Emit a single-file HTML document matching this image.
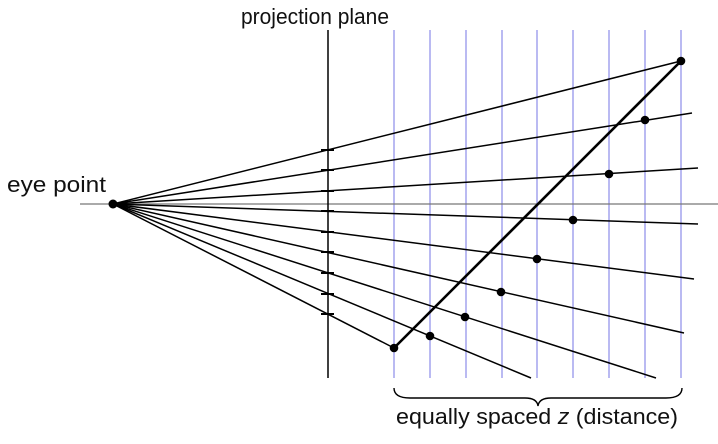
<!DOCTYPE html>
<html><head><meta charset="utf-8"><style>
html,body{margin:0;padding:0;background:#fff;}
svg{display:block;}
text{font-family:"Liberation Sans",sans-serif;fill:#111;}
</style></head><body>
<svg width="718" height="444" viewBox="0 0 718 444" xmlns="http://www.w3.org/2000/svg">
<rect width="718" height="444" fill="#fff"/>
<g stroke="#a8a8ee" stroke-width="1.6">
<line x1="394" y1="30" x2="394" y2="378"/>
<line x1="430" y1="30" x2="430" y2="378"/>
<line x1="466" y1="30" x2="466" y2="378"/>
<line x1="502" y1="30" x2="502" y2="378"/>
<line x1="537" y1="30" x2="537" y2="378"/>
<line x1="573" y1="30" x2="573" y2="378"/>
<line x1="609" y1="30" x2="609" y2="378"/>
<line x1="645" y1="30" x2="645" y2="378"/>
<line x1="681" y1="30" x2="681" y2="378"/>
</g>
<line x1="80" y1="204" x2="718" y2="204" stroke="#777" stroke-width="1.2"/>
<line x1="328" y1="30" x2="328" y2="378" stroke="#000" stroke-width="1.5"/>
<g stroke="#000" stroke-width="1.5">
<line x1="113" y1="204" x2="681" y2="61"/>
<line x1="113" y1="204" x2="692" y2="113"/>
<line x1="113" y1="204" x2="698" y2="168"/>
<line x1="113" y1="204" x2="698" y2="224"/>
<line x1="113" y1="204" x2="694" y2="279"/>
<line x1="113" y1="204" x2="684" y2="333"/>
<line x1="113" y1="204" x2="656" y2="378"/>
<line x1="113" y1="204" x2="531" y2="378"/>
<line x1="113" y1="204" x2="394" y2="348"/>
</g>
<g stroke="#000" stroke-width="2">
<line x1="321" y1="150" x2="334" y2="150"/>
<line x1="321" y1="170" x2="334" y2="170"/>
<line x1="321" y1="191" x2="334" y2="191"/>
<line x1="321" y1="211" x2="334" y2="211"/>
<line x1="321" y1="232" x2="334" y2="232"/>
<line x1="321" y1="252" x2="334" y2="252"/>
<line x1="321" y1="273" x2="334" y2="273"/>
<line x1="321" y1="294" x2="334" y2="294"/>
<line x1="321" y1="314" x2="334" y2="314"/>
</g>
<line x1="394" y1="348" x2="681" y2="61" stroke="#000" stroke-width="2.6"/>
<g fill="#000">
<circle cx="113" cy="204" r="4.5"/>
<circle cx="681" cy="61" r="4.3"/>
<circle cx="645" cy="120" r="4.3"/>
<circle cx="609" cy="174" r="4.3"/>
<circle cx="573" cy="220" r="4.3"/>
<circle cx="537" cy="259" r="4.3"/>
<circle cx="501" cy="292" r="4.3"/>
<circle cx="465" cy="317" r="4.3"/>
<circle cx="430" cy="336" r="4.3"/>
<circle cx="394" cy="348" r="4.3"/>
</g>
<path d="M394,388 Q394,398 410,398 L525,398 Q537,398 538,406 Q539,398 551,398 L666,398 Q682,398 682,388" fill="none" stroke="#000" stroke-width="1.4"/>
<text x="241" y="24" font-size="22" textLength="148" lengthAdjust="spacingAndGlyphs">projection plane</text>
<text x="7" y="192" font-size="22" textLength="99" lengthAdjust="spacingAndGlyphs">eye point</text>
<text x="396" y="424" font-size="22" textLength="282" lengthAdjust="spacingAndGlyphs">equally spaced <tspan font-style="italic">z</tspan> (distance)</text>
</svg>
</body></html>
